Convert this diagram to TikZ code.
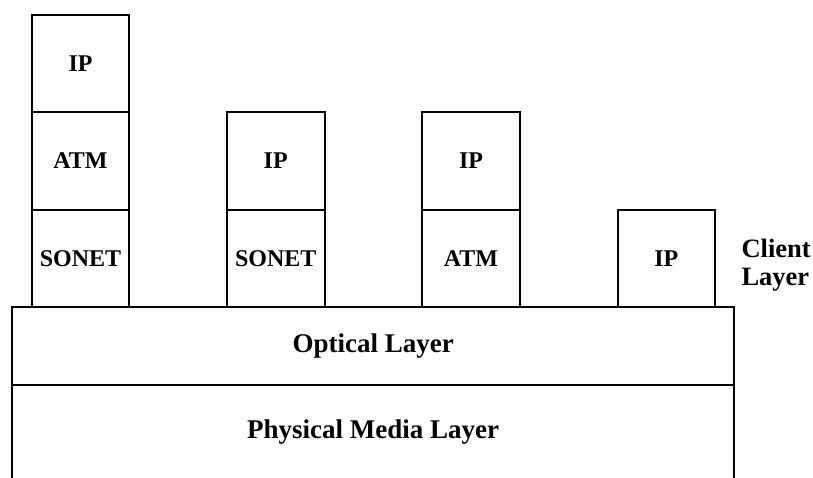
\documentclass[tikz,border=0pt]{standalone}
\usepackage{fontspec}
\setmainfont{Liberation Serif}
\begin{document}
\begin{tikzpicture}[x=1pt,y=-1pt,line width=2pt,
    font=\fontsize{24}{28}\selectfont\bfseries,
    cell/.style={draw,rectangle,inner sep=0pt,outer sep=0pt,
      minimum width=97.6pt,minimum height=97.6pt},
    band/.style={rectangle,inner sep=0pt,outer sep=0pt,minimum width=721.7pt,
      font=\fontsize{27}{32}\selectfont\bfseries}]
    \useasboundingbox (0,0) rectangle (813,478);
    % client stacks
    \node[cell] (ip1) at (80.5,63.4) {IP};
    \node[cell] (atm1) at (80.5,161) {ATM};
    \node[cell] (sonet1) at (80.5,258.6) {SONET};
    \node[cell] (ip2) at (275.7,161) {IP};
    \node[cell] (sonet2) at (275.7,258.6) {SONET};
    \node[cell] (ip3) at (471,161) {IP};
    \node[cell] (atm3) at (471,258.6) {ATM};
    \node[cell] (ip4) at (666.3,258.6) {IP};
    \node[anchor=west,align=left,inner sep=0pt,
      font=\fontsize{26.5}{28}\selectfont\bfseries] (client) at (740.5,265) {Client\\Layer};
    % lower layers
    \node[band,draw,minimum height=78pt] (optical) at (373.2,346.3) {Optical Layer};
    \node[band,minimum height=92.7pt] (physical) at (373.2,431.6) {Physical Media Layer};
    \draw (physical.south west) -- (physical.north west);
    \draw (physical.south east) -- (physical.north east);
\end{tikzpicture}
\end{document}
